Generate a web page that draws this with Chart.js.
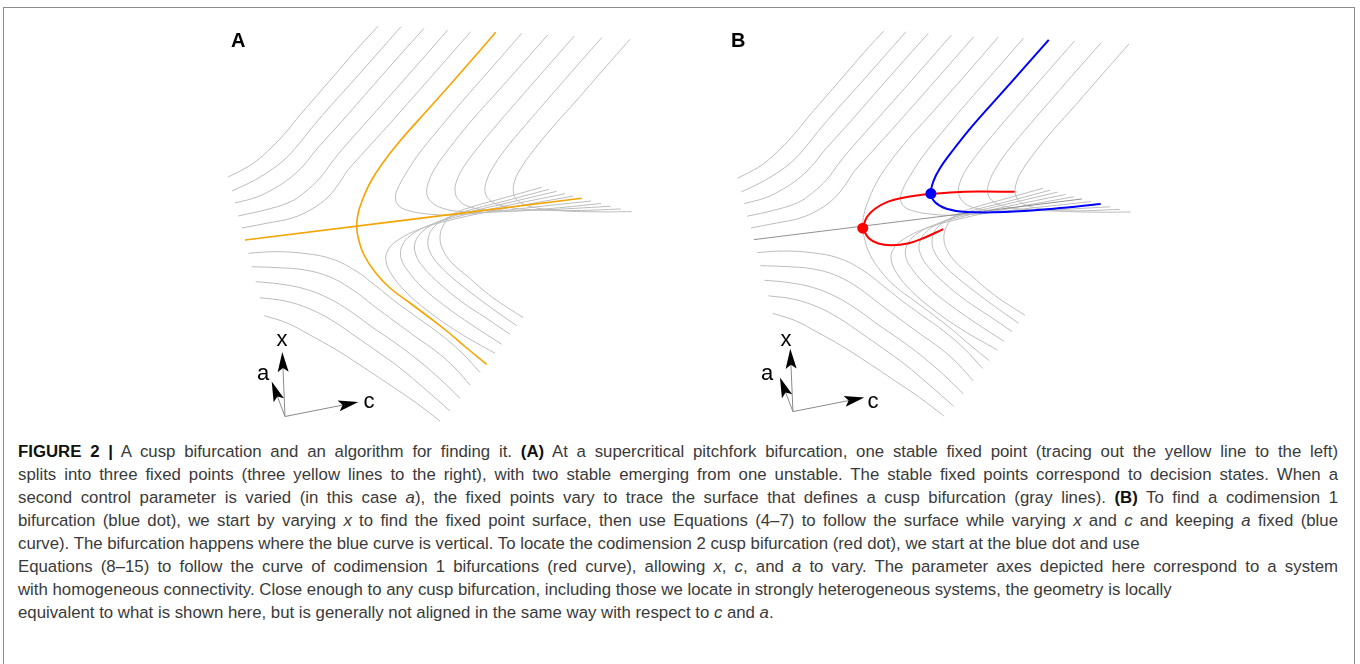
<!DOCTYPE html>
<html>
<head>
<meta charset="utf-8">
<script src="https://cdn.jsdelivr.net/npm/chart.js@4.4.0/dist/chart.umd.min.js"></script>
<style>
  html, body { margin: 0; padding: 0; background: #fff; }
  body { width: 1360px; height: 664px; position: relative; overflow: hidden;
         font-family: "Liberation Sans", Arial, Helvetica, sans-serif; }
  #frame { position: absolute; left: 3px; top: 7px; width: 1352px; height: 720px;
           border: 1.5px solid #8c8c8c; border-bottom: none; box-sizing: border-box; }
  .panel { position: absolute; top: 10px; width: 420px; height: 430px; }
  .panel canvas { display: block; }
  .tag { position: absolute; top: 29.5px; font-weight: bold; font-size: 20px; line-height: 1; color: #000; }
  .axl { position: absolute; font-size: 22px; line-height: 1; color: #000; }
  #caption { position: absolute; left: 18px; top: 440px; width: 1320px;
             font-size: 16.8px; line-height: 23px; color: #3a3a3a; }
  #caption .ln { white-space: nowrap; display: block; }
  #caption b { color: #111; }
</style>
</head>
<body>
<div id="frame"></div>

<div class="panel" style="left:225px"><canvas id="panelA" width="420" height="430"></canvas></div>
<div class="panel" style="left:729px"><canvas id="panelB" width="420" height="430"></canvas></div>

<div class="tag" style="left:231px">A</div>
<div class="tag" style="left:731px">B</div>

<div class="axl" style="left:276.5px;top:328px">x</div>
<div class="axl" style="left:257px;top:361.5px">a</div>
<div class="axl" style="left:363.5px;top:390px">c</div>
<div class="axl" style="left:780.5px;top:328px">x</div>
<div class="axl" style="left:761px;top:361.5px">a</div>
<div class="axl" style="left:867.5px;top:390px">c</div>

<div id="caption">
  <span class="ln j"><b>FIGURE 2 |</b> A cusp bifurcation and an algorithm for finding it. <b>(A)</b> At a supercritical pitchfork bifurcation, one stable fixed point (tracing out the yellow line to the left)</span>
  <span class="ln j">splits into three fixed points (three yellow lines to the right), with two stable emerging from one unstable. The stable fixed points correspond to decision states. When a</span>
  <span class="ln j">second control parameter is varied (in this case <i>a</i>), the fixed points vary to trace the surface that defines a cusp bifurcation (gray lines). <b>(B)</b> To find a codimension 1</span>
  <span class="ln j">bifurcation (blue dot), we start by varying <i>x</i> to find the fixed point surface, then use Equations (4–7) to follow the surface while varying <i>x</i> and <i>c</i> and keeping <i>a</i> fixed (blue</span>
  <span class="ln">curve). The bifurcation happens where the blue curve is vertical. To locate the codimension 2 cusp bifurcation (red dot), we start at the blue dot and use</span>
  <span class="ln j">Equations (8–15) to follow the curve of codimension 1 bifurcations (red curve), allowing <i>x</i>, <i>c</i>, and <i>a</i> to vary. The parameter axes depicted here correspond to a system</span>
  <span class="ln">with homogeneous connectivity. Close enough to any cusp bifurcation, including those we locate in strongly heterogeneous systems, the geometry is locally</span>
  <span class="ln">equivalent to what is shown here, but is generally not aligned in the same way with respect to <i>c</i> and <i>a</i>.</span>
</div>

<script>
// Projected cusp surface x^3 + a x + c = 0, sliced at constant c.
// Points are [horizontal, vertical] in panel units (vertical grows downward).

// c-slices on one side: monotone branches (upper left)
const upperLeft1 = [[228,177],[242,170],[255,162],[272,147],[287,131],[300,115],[313,100],[339,70],[358,48],[378.3,26]];
const upperLeft2 = [[232,191],[251,182],[268,172],[284,160],[298,145],[310,130],[327,110],[354,80],[377,54],[401,26.7]];
const upperLeft3 = [[235,203],[257,197],[275,188],[290,178],[304,165],[316,150],[343,120],[378,80],[401,54],[424,28.3]];
const upperLeft4 = [[238,216],[265,210],[290,202],[305,192],[320,178],[332,162],[346,145],[370,118],[395,90],[425,56],[447.7,30]];
const upperLeft5 = [[242,228],[268,223],[292,218],[312,209],[328,197],[340,182],[348,170],[366,150],[393,120],[431,77],[470.7,31.7]];

// same slices: folded branches (lower right), from the fan tip round the fold
const lowerFold1 = [[573.3,196],[505,208.5],[455,219],[420,229],[398,240],[388,250],[386,261],[392,275],[406,292],[428,311],[458,332],[495,353.3]];
const lowerFold2 = [[565,193.7],[505,206],[460,216],[430,225],[411,235],[402,246],[401,258],[408,271],[423,288],[445,306],[472,325],[501.7,344.3]];
const lowerFold3 = [[556.7,191.3],[505,203.5],[465,213],[440,221],[423,231],[415,243],[416,255],[424,268],[440,284],[462,302],[486,318],[510,334.3]];
const lowerFold4 = [[549,189.3],[505,201],[470,210],[447,218],[433,228],[428,240],[430,252],[439,265],[455,280],[478,298],[497,312],[516.7,325.7]];
const lowerFold5 = [[541.7,187.3],[500,199],[470,207.5],[452,215],[443,226],[440,238],[443,250],[452,263],[467,276],[492,297],[523.3,317.7]];

// c-slices on the other side: monotone branches (lower left)
const lowerLeft1 = [[248.3,253.3],[275,251.7],[305,253.5],[332,259],[356,271],[376,286],[396,302],[418,318],[440,334],[461,352],[480,372.3]];
const lowerLeft2 = [[251.7,266.7],[278,267.7],[305,270],[330,277],[353,290],[374,306],[395,321.7],[416,337],[437,352],[455,368],[470,385]];
const lowerLeft3 = [[255.7,281.7],[280,284],[305,289],[328,298],[350,311],[372,327],[394,342],[418,360],[440,379],[460,398.3]];
const lowerLeft4 = [[260,297.7],[285,301],[310,309],[333,321],[355,336],[378,352],[400,368],[425,389],[450,411]];
const lowerLeft5 = [[264.3,315.7],[287,323],[310,335],[335,349],[360,365],[390,385],[415,402],[440,421]];

// same slices: folded branches (upper right), from the top round the fold to the fan tip
const upperFold1 = [[521.7,33.3],[495,64],[466,97],[438,130],[418,155],[405,175],[398,188],[395.5,198],[399,206],[410,211],[428,214],[450,215],[485,212.5],[535,207],[591,201]];
const upperFold2 = [[547.7,35],[522.7,63.3],[496,93.3],[469.3,123.3],[449.3,148.3],[436,166.7],[429.3,180],[426.7,192.7],[431,201.7],[442.7,208.3],[462.7,211.7],[502.7,211.7],[552.7,208.3],[601,203.5]];
const upperFold3 = [[574.3,36],[548,66],[520,98],[495,127],[476,150],[463,168],[457,180],[455,191],[459,200.5],[470,207],[492,210.5],[540,210],[610.7,206.3]];
const upperFold4 = [[601.7,37.7],[575,68],[548,99],[523,128],[504,151],[492,169],[486.5,181],[485,191.5],[489,199.5],[501,205.5],[527,209.5],[575,210.5],[620.7,209]];
const upperFold5 = [[630,39.3],[603,70],[576,101],[551,129],[533,151],[521,168],[515,180],[513.3,191.7],[517,200],[530,206.5],[558,210.5],[595,211.8],[631.7,211.7]];

// c = 0 slice: pitchfork parabola a = -x^2 and the line x = 0
const pitchforkArms = [[495.7,32.3],[463,70],[430,107.3],[400,141],[382,164],[370,183],[362,201],[358,214],[356.7,226.5],[358.5,239],[364,255],[375,272],[390,288],[410,303],[430,318],[448,332],[466.7,348],[486.7,364.3]];
const pitchforkStem = [[245,240],[581.7,198.3]];

// Codimension-1 fold curve through the cusp point
const foldUpper = [[356.7,228.3],[361,216.7],[369.3,208.3],[382.7,201],[399.3,196.7],[416,194.3],[426.7,193.3],[446,191.7],[476,190.7],[512.7,191]];
const foldLower = [[356.7,228.3],[362.7,238.3],[372.7,244],[386,245.7],[402.7,244],[419.3,238.3],[439.3,229.3]];
const cuspPoint = [[356.7,228.3]];
const foldPoint = [[426.7,192.7]];

// Parameter axis glyph: origin and arrow tips, panel units
const glyphOrigin = [285, 416.5];
const glyphTips = [[282.3, 352], [271.7, 381.5], [358.3, 402]];

const surfaceSlices = [upperLeft1, upperLeft2, upperLeft3, upperLeft4, upperLeft5,
  lowerFold1, lowerFold2, lowerFold3, lowerFold4, lowerFold5,
  lowerLeft1, lowerLeft2, lowerLeft3, lowerLeft4, lowerLeft5,
  upperFold1, upperFold2, upperFold3, upperFold4, upperFold5];

const GRAY = '#bcbcbc';
const toXY = pts => pts.map(([x, y]) => ({ x, y }));

function curve(pts, color, width, order) {
  return { data: toXY(pts), showLine: true, borderColor: color, backgroundColor: color,
           borderWidth: width, pointRadius: 0, tension: 0.4, fill: false, order: order };
}
function dot(pts, color) {
  return { data: toXY(pts), showLine: false, pointRadius: 5.5, pointBorderWidth: 0,
           backgroundColor: color, borderColor: color, order: -1 };
}

const axisGlyph = {
  id: 'axisGlyph',
  afterDatasetsDraw(chart) {
    const { ctx, scales: { x, y } } = chart;
    const o = [x.getPixelForValue(glyphOrigin[0]), y.getPixelForValue(glyphOrigin[1])];
    ctx.save();
    glyphTips.forEach(([tx, ty]) => {
      const t = [x.getPixelForValue(tx), y.getPixelForValue(ty)];
      const dx = t[0] - o[0], dy = t[1] - o[1];
      const len = Math.hypot(dx, dy), ux = dx / len, uy = dy / len;
      const head = 20, half = 5.5;
      const b = [t[0] - ux * head, t[1] - uy * head];
      ctx.strokeStyle = '#8a8a8a';
      ctx.lineWidth = 1;
      ctx.beginPath();
      ctx.moveTo(o[0], o[1]);
      ctx.lineTo(b[0] + ux * 4, b[1] + uy * 4);
      ctx.stroke();
      ctx.fillStyle = '#000';
      ctx.beginPath();
      ctx.moveTo(t[0], t[1]);
      ctx.lineTo(b[0] - uy * half, b[1] + ux * half);
      ctx.lineTo(b[0] + ux * 4, b[1] + uy * 4);
      ctx.lineTo(b[0] + uy * half, b[1] - ux * half);
      ctx.closePath();
      ctx.fill();
    });
    ctx.restore();
  }
};

function panel(id, datasets) {
  return new Chart(document.getElementById(id), {
    type: 'scatter',
    data: { datasets },
    options: {
      responsive: false, animation: false, events: [],
      layout: { padding: 0 },
      plugins: { legend: { display: false }, tooltip: { enabled: false } },
      scales: {
        x: { type: 'linear', min: 225, max: 645, display: false },
        y: { type: 'linear', min: 10, max: 440, reverse: true, display: false }
      }
    },
    plugins: [axisGlyph]
  });
}

// Panel A: surface with the c = 0 pitchfork highlighted
panel('panelA', [
  curve(pitchforkArms, '#F5A400', 1.6, 0),
  curve(pitchforkStem, '#F5A400', 1.6, 0),
  ...surfaceSlices.map(s => curve(s, GRAY, 1, 3))
]);

// Panel B: continuation of the fold (blue) and the cusp (red)
panel('panelB', [
  dot(cuspPoint, '#FF0000'),
  dot(foldPoint, '#0000FF'),
  curve(upperFold2, '#0000FF', 2, 0),
  curve(foldUpper, '#FF0000', 2, 0),
  curve(foldLower, '#FF0000', 2, 0),
  curve(pitchforkStem, '#909090', 1, 2),
  curve(pitchforkArms, GRAY, 1, 3),
  ...surfaceSlices.map(s => curve(s, GRAY, 1, 3))
]);

// Caption: justify full lines by spreading word gaps across the measure
(function () {
  const box = document.getElementById('caption');
  const lines = Array.from(box.querySelectorAll('.ln'));
  const full = lines.filter(l => l.classList.contains('j'));
  const measure = el => { el.style.display = 'inline-block'; const w = el.getBoundingClientRect().width; el.style.display = 'block'; return w; };
  const widest = Math.max(...full.map(measure));
  if (widest > 1312) { box.style.fontSize = (16.8 * 1312 / widest) + 'px'; }
  full.forEach(l => {
    const w = measure(l);
    const gaps = (l.textContent.match(/ /g) || []).length;
    l.style.wordSpacing = ((1320 - w) / gaps) + 'px';
  });
})();
</script>
</body>
</html>
